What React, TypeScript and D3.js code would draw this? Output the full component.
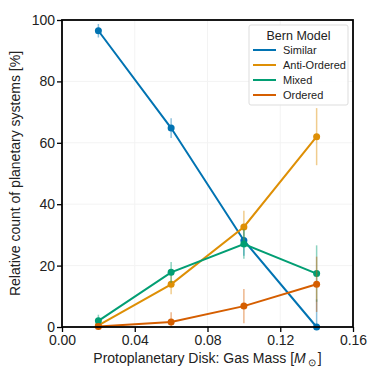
import { useEffect, useRef } from 'react';
import * as d3 from 'd3';

// gas masses (x), in solar masses
const gasMass = [0.02, 0.06, 0.1, 0.14];

const seriesNames = ['Similar', 'Anti-Ordered', 'Mixed', 'Ordered'];
const seriesColors = ['#0173B2', '#DE8F05', '#029E73', '#D55E00'];

const similar = [96.5, 64.8, 28.2, 0];
const antiOrdered = [0.5, 13.9, 32.6, 62.0];
const mixed = [2.0, 17.8, 27.0, 17.4];
const ordered = [0.2, 1.6, 6.8, 13.9];

const similarErr = [2.2, 3.2, 5.0, 9.0];
const antiOrderedErr = [1.2, 3.2, 5.3, 9.3];
const mixedErr = [2.0, 3.4, 4.8, 9.2];
const orderedErr = [0.8, 3.2, 5.6, 9.0];

const xTicks = [0, 0.04, 0.08, 0.12, 0.16];
const yTicks = [0, 20, 40, 60, 80, 100];

const W = 382;
const H = 382;
const margin = { left: 62, right: 29, top: 20, bottom: 55 };
const font = '"Liberation Sans", Arial, sans-serif';

export default function App() {
  const ref = useRef<SVGSVGElement>(null);

  useEffect(() => {
    const svg = d3.select(ref.current);
    svg.selectAll('*').remove();

    const x = d3.scaleLinear().domain([0, 0.16]).range([margin.left, W - margin.right]);
    const y = d3.scaleLinear().domain([0, 100]).range([H - margin.bottom, margin.top]);

    svg.append('rect').attr('width', W).attr('height', H).attr('fill', '#fff');

    svg.append('defs').append('clipPath').attr('id', 'plotclip')
      .append('rect')
      .attr('x', x(0)).attr('y', y(100))
      .attr('width', x(0.16) - x(0)).attr('height', y(0) - y(100));

    // faint grid
    const grid = svg.append('g');
    grid.selectAll('line.gx').data(xTicks).enter().append('line')
      .attr('x1', d => x(d)).attr('x2', d => x(d))
      .attr('y1', y(0)).attr('y2', y(100))
      .attr('stroke', '#f3f3f3').attr('stroke-width', 1);
    grid.selectAll('line.gy').data(yTicks).enter().append('line')
      .attr('y1', d => y(d)).attr('y2', d => y(d))
      .attr('x1', x(0)).attr('x2', x(0.16))
      .attr('stroke', '#f3f3f3').attr('stroke-width', 1);

    const all = [
      { name: seriesNames[0], color: seriesColors[0], vals: similar, errs: similarErr },
      { name: seriesNames[1], color: seriesColors[1], vals: antiOrdered, errs: antiOrderedErr },
      { name: seriesNames[2], color: seriesColors[2], vals: mixed, errs: mixedErr },
      { name: seriesNames[3], color: seriesColors[3], vals: ordered, errs: orderedErr },
    ];

    const plot = svg.append('g');
    const line = d3.line<number>().x((d, i) => x(gasMass[i])).y(d => y(d));

    all.forEach(s => {
      const g = plot.append('g');
      g.append('g').attr('clip-path', 'url(#plotclip)')
        .selectAll('line.err').data(s.vals).enter().append('line')
        .attr('x1', (d, i) => x(gasMass[i])).attr('x2', (d, i) => x(gasMass[i]))
        .attr('y1', (d, i) => y(d - s.errs[i])).attr('y2', (d, i) => y(d + s.errs[i]))
        .attr('stroke', s.color).attr('stroke-opacity', 0.45).attr('stroke-width', 1.5);
      g.append('path').datum(s.vals).attr('d', line)
        .attr('fill', 'none').attr('stroke', s.color).attr('stroke-width', 2);
      g.selectAll('circle').data(s.vals).enter().append('circle')
        .attr('cx', (d, i) => x(gasMass[i])).attr('cy', d => y(d))
        .attr('r', 3.5).attr('fill', s.color);
    });

    // frame
    svg.append('rect')
      .attr('x', x(0)).attr('y', y(100))
      .attr('width', x(0.16) - x(0)).attr('height', y(0) - y(100))
      .attr('fill', 'none').attr('stroke', '#000').attr('stroke-width', 1.8);

    const xAxis = svg.append('g').attr('transform', `translate(0,${y(0)})`)
      .call(d3.axisBottom(x).tickValues(xTicks).tickFormat(d3.format('.2f')).tickSize(5).tickPadding(3));
    const yAxis = svg.append('g').attr('transform', `translate(${x(0)},0)`)
      .call(d3.axisLeft(y).tickValues(yTicks).tickFormat(d3.format('d')).tickSize(5).tickPadding(2));
    [xAxis, yAxis].forEach(a => {
      a.select('.domain').remove();
      a.selectAll('line').attr('stroke', '#000').attr('stroke-width', 1.3);
      a.selectAll('text').attr('font-family', font).attr('font-size', 14).attr('fill', '#222');
    });

    // axis labels
    const xl = svg.append('text')
      .attr('x', (x(0) + x(0.16)) / 2).attr('y', 363)
      .attr('text-anchor', 'middle').attr('font-family', font).attr('font-size', 14).attr('fill', '#222');
    xl.append('tspan').text('Protoplanetary Disk: Gas Mass [');
    xl.append('tspan').attr('font-style', 'italic').text('M');
    xl.append('tspan').attr('font-size', 10).attr('dy', 3).text('\u2009\u2299\u2009');
    xl.append('tspan').attr('dy', -3).text(']');

    svg.append('text')
      .attr('transform', `translate(20,${(y(0) + y(100)) / 2}) rotate(-90)`)
      .attr('text-anchor', 'middle').attr('font-family', font).attr('font-size', 14).attr('fill', '#222')
      .text('Relative count of planetary systems [%]');

    // legend
    const lg = svg.append('g').attr('transform', 'translate(249,25)');
    lg.append('rect').attr('width', 99).attr('height', 80).attr('rx', 2)
      .attr('fill', '#fff').attr('fill-opacity', 0.85).attr('stroke', '#ddd');
    lg.append('text').attr('x', 49.5).attr('y', 15).attr('text-anchor', 'middle')
      .attr('font-family', font).attr('font-size', 12.5).attr('fill', '#222').text('Bern Model');
    all.forEach((s, i) => {
      const yy = 25 + i * 15;
      lg.append('line').attr('x1', 4).attr('x2', 27).attr('y1', yy).attr('y2', yy)
        .attr('stroke', s.color).attr('stroke-width', 2);
      lg.append('text').attr('x', 34).attr('y', yy + 4)
        .attr('font-family', font).attr('font-size', 11).attr('fill', '#222').text(s.name);
    });
  }, []);

  return (
    <svg ref={ref} width={W} height={H} style={{ position: 'absolute', left: 0, top: 0 }} />
  );
}
